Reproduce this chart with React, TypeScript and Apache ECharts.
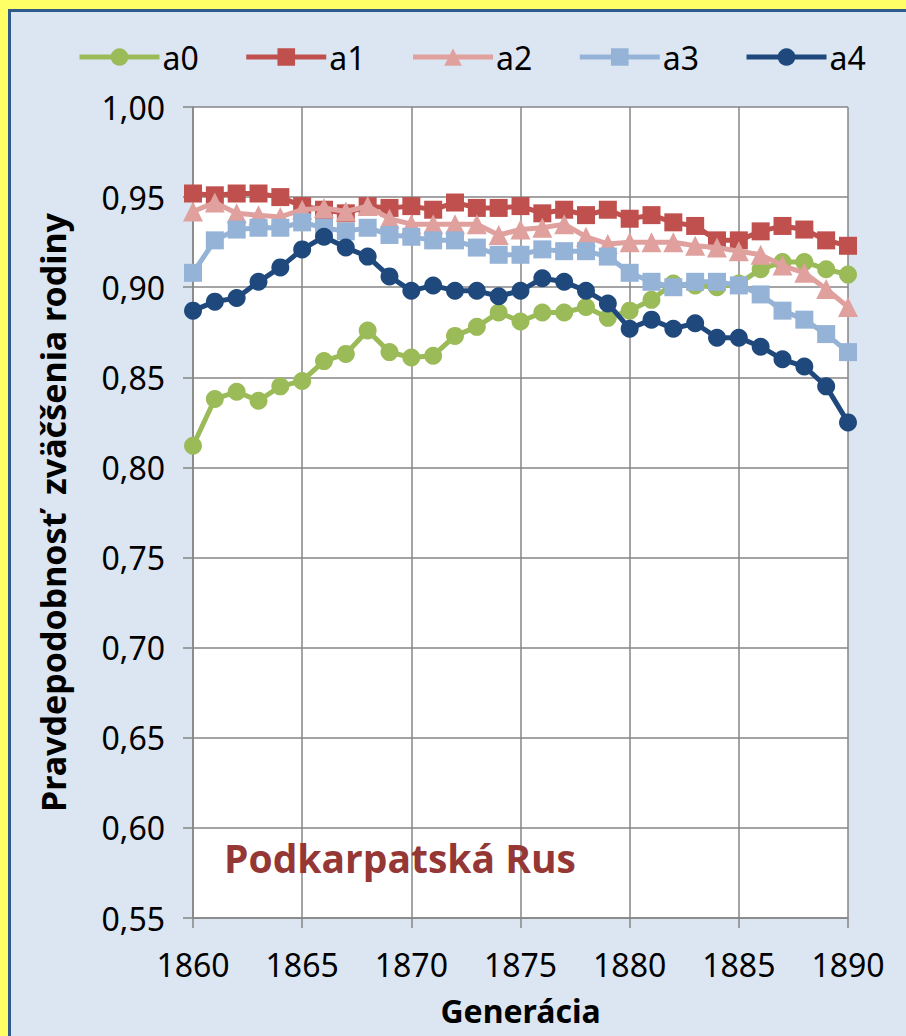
import React, { useEffect, useRef } from "react";
import * as echarts from "echarts";

const years = [
  1860, 1861, 1862, 1863, 1864, 1865, 1866, 1867, 1868, 1869, 1870, 1871, 1872, 1873, 1874, 1875,
  1876, 1877, 1878, 1879, 1880, 1881, 1882, 1883, 1884, 1885, 1886, 1887, 1888, 1889, 1890,
];
const a0 = [
  0.812, 0.838, 0.842, 0.837, 0.845, 0.848, 0.859, 0.863, 0.876, 0.864, 0.861, 0.862, 0.873, 0.878, 0.886, 0.881,
  0.886, 0.886, 0.889, 0.883, 0.887, 0.893, 0.902, 0.901, 0.900, 0.902, 0.910, 0.914, 0.914, 0.910, 0.907,
];
const a1 = [
  0.952, 0.951, 0.952, 0.952, 0.950, 0.945, 0.943, 0.941, 0.945, 0.944, 0.945, 0.943, 0.947, 0.944, 0.944, 0.945,
  0.941, 0.943, 0.940, 0.943, 0.938, 0.940, 0.936, 0.934, 0.926, 0.926, 0.931, 0.934, 0.932, 0.926, 0.923,
];
const a2 = [
  0.942, 0.947, 0.941, 0.940, 0.939, 0.943, 0.944, 0.942, 0.945, 0.938, 0.935, 0.935, 0.935, 0.935, 0.929, 0.932,
  0.933, 0.935, 0.928, 0.924, 0.925, 0.925, 0.925, 0.923, 0.922, 0.920, 0.918, 0.912, 0.908, 0.899, 0.889,
];
const a3 = [
  0.908, 0.926, 0.932, 0.933, 0.933, 0.936, 0.933, 0.931, 0.933, 0.929, 0.928, 0.926, 0.926, 0.922, 0.918, 0.918,
  0.921, 0.920, 0.920, 0.917, 0.908, 0.903, 0.900, 0.903, 0.903, 0.901, 0.896, 0.887, 0.882, 0.874, 0.864,
];
const a4 = [
  0.887, 0.892, 0.894, 0.903, 0.911, 0.921, 0.928, 0.922, 0.917, 0.906, 0.898, 0.901, 0.898, 0.898, 0.895, 0.898,
  0.905, 0.903, 0.898, 0.891, 0.877, 0.882, 0.877, 0.880, 0.872, 0.872, 0.867, 0.860, 0.856, 0.845, 0.825,
];

const seriesNames = ["a0", "a1", "a2", "a3", "a4"];
const seriesData = [a0, a1, a2, a3, a4];
const colors = ["#9BBB59", "#C0504D", "#E0A09E", "#95B3D7", "#1F497D"];
const symbols = ["circle", "rect", "triangle", "rect", "circle"];

const FONT = "'Noto Sans', sans-serif";

export default function App() {
  const ref = useRef<HTMLDivElement>(null);
  useEffect(() => {
    if (!ref.current) return;
    const chart = echarts.init(ref.current, null, { renderer: "svg" });
    chart.setOption({
      animation: false,
      backgroundColor: "#DCE6F2",
      color: colors,
      legend: {
        top: 36,
        left: 72,
        itemWidth: 80,
        itemHeight: 22,
        itemGap: 45,
        lineStyle: { width: 5 },
        textStyle: { fontSize: 32, fontFamily: FONT, color: "#000", width: 40, padding: [0, 0, 0, -2] },
        data: seriesNames,
      },
      grid: {
        left: 193,
        right: 58,
        top: 107,
        bottom: 118,
        show: true,
        backgroundColor: "#FFFFFF",
        borderWidth: 0,
      },
      xAxis: {
        type: "value",
        min: 1860,
        max: 1890,
        interval: 5,
        name: "Generácia",
        nameLocation: "middle",
        nameGap: 76,
        nameTextStyle: { fontSize: 32, fontWeight: "bold", fontFamily: FONT, color: "#000" },
        axisLine: { show: true, lineStyle: { color: "#868686", width: 1.5 } },
        axisTick: { show: true, length: 10, lineStyle: { color: "#868686", width: 1.5 } },
        axisLabel: {
          fontSize: 32,
          fontFamily: FONT,
          color: "#000",
          margin: 30,
          formatter: (v: number) => String(v),
        },
        splitLine: { show: true, lineStyle: { color: "#868686", width: 1.5 } },
      },
      yAxis: {
        type: "value",
        min: 0.55,
        max: 1.0,
        interval: 0.05,
        name: "Pravdepodobnosť  zväčšenia rodiny",
        nameLocation: "middle",
        nameGap: 123,
        nameRotate: 90,
        nameTextStyle: { fontSize: 34, fontWeight: "bold", fontFamily: FONT, color: "#000" },
        axisLine: { show: true, lineStyle: { color: "#868686", width: 1.5 } },
        axisTick: { show: true, length: 10, lineStyle: { color: "#868686", width: 1.5 } },
        axisLabel: {
          fontSize: 32,
          fontFamily: FONT,
          color: "#000",
          margin: 28,
          formatter: (v: number) => v.toFixed(2).replace(".", ","),
        },
        splitLine: { show: true, lineStyle: { color: "#868686", width: 1.5 } },
      },
      graphic: [
        { type: "rect", shape: { x: 0, y: 0, width: 906, height: 9 }, style: { fill: "#FFFF66" }, silent: true },
        { type: "rect", shape: { x: 0, y: 0, width: 8, height: 1036 }, style: { fill: "#FFFF66" }, silent: true },
        { type: "rect", shape: { x: 8, y: 9, width: 898, height: 3 }, style: { fill: "#2E5A8C" }, silent: true },
        { type: "rect", shape: { x: 8, y: 9, width: 3, height: 1027 }, style: { fill: "#2E5A8C" }, silent: true },
        {
          type: "text",
          left: 224,
          top: 838,
          z: 100,
          style: {
            text: "Podkarpatská Rus",
            fontSize: 39,
            fontWeight: "bold",
            fontFamily: "'Open Sans', 'Noto Sans', sans-serif",
            fill: "#953735",
          },
        },
      ],
      series: seriesNames.map((name, i) => ({
        name,
        type: "line",
        data: years.map((y, j) => [y, seriesData[i][j]]),
        symbol: symbols[i],
        symbolSize: i === 2 ? 20 : 18,
        lineStyle: { width: 5, color: colors[i] },
        itemStyle: { color: colors[i] },
        z: 2 + i,
      })),
    });
    return () => chart.dispose();
  }, []);
  return (
    <div
      ref={ref}
      style={{ position: "fixed", left: 0, top: 0, width: 906, height: 1036 }}
    />
  );
}
